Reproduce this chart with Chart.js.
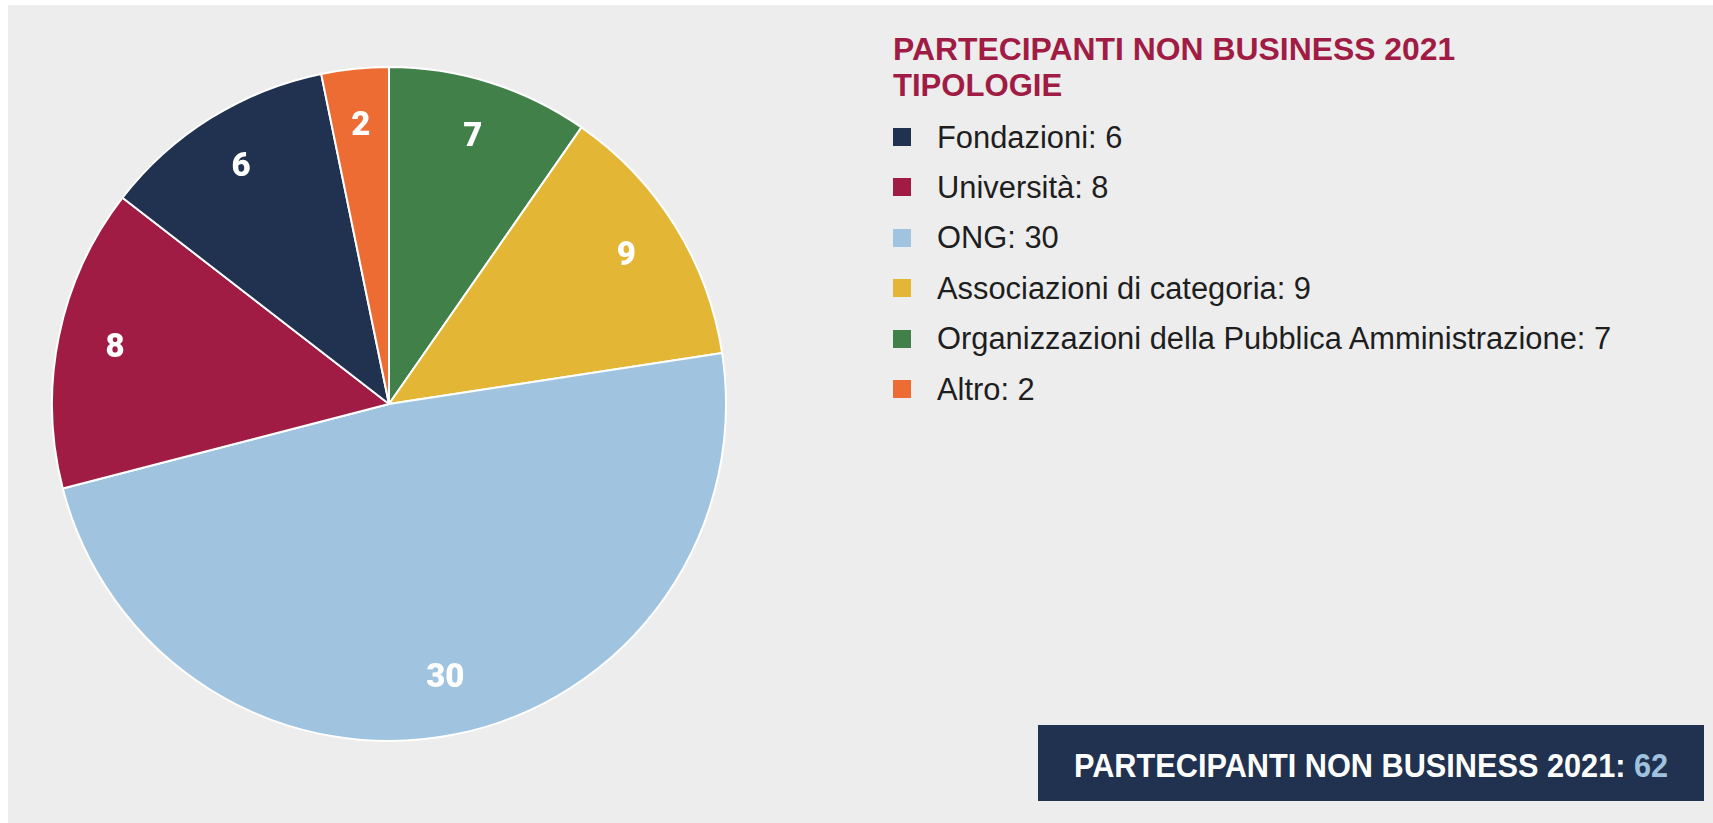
<!DOCTYPE html>
<html>
<head>
<meta charset="utf-8">
<script src="https://cdn.jsdelivr.net/npm/chart.js@4/dist/chart.umd.min.js"></script>
<style>
html,body{margin:0;padding:0;background:#ffffff;width:1713px;height:823px;overflow:hidden}
#bg{position:absolute;left:8px;top:5px;right:0;bottom:0;background:#ededed}
#pieBox{position:absolute;left:51px;top:66px;width:676px;height:676px}
.t{position:absolute;white-space:nowrap;transform-origin:0 0}
.title{left:893px;font-family:'Liberation Sans Narrow','Liberation Sans',sans-serif;font-weight:bold;font-size:32px;line-height:32px;color:#a01c44}
.leg{left:937px;font-family:'Liberation Sans Narrow','Liberation Sans',sans-serif;font-size:31px;line-height:31px;color:#1e1e1e}
.sw{position:absolute;left:893px;width:18px;height:18px}
#total{position:absolute;left:1038px;top:725px;width:666px;height:76px;background:#20324f;display:flex;align-items:center;justify-content:center}
#totalText{font-family:'Liberation Sans Narrow','Liberation Sans',sans-serif;font-weight:bold;font-size:34px;line-height:34px;color:#ffffff;white-space:nowrap;transform-origin:50% 50%;margin-top:4px}
#totalText span{color:#9fc2de}
</style>
</head>
<body>
<div id="bg"></div>
<div id="pieBox"><canvas id="c"></canvas></div>
<div id="title1" class="t title" style="top:33px">PARTECIPANTI NON BUSINESS 2021</div>
<div id="title2" class="t title" style="top:69px">TIPOLOGIE</div>
<div id="legend"></div>
<div id="total"><div id="totalText"></div></div>
<script>
// Categories in legend order
const categories = ['Fondazioni', 'Università', 'ONG', 'Associazioni di categoria', 'Organizzazioni della Pubblica Amministrazione', 'Altro'];
// Values per category (legend order)
const values = [6, 8, 30, 9, 7, 2];
// Colour per category (legend order)
const colors = ['#20324f', '#a01c44', '#a0c3df', '#e3b735', '#42804a', '#ec6c33'];
// As in the original picture: slice i has size values[i], but is painted with the
// colour (and labelled with the value) of category sliceCategory[i]
const sliceCategory = [4, 3, 2, 1, 0, 5];
const titleLines = ['PARTECIPANTI NON BUSINESS 2021', 'TIPOLOGIE'];
const totalLabel = 'PARTECIPANTI NON BUSINESS 2021: ';

const total = values.reduce((a, b) => a + b, 0);

document.getElementById('title1').textContent = titleLines[0];
document.getElementById('title2').textContent = titleLines[1];

// Legend
const legend = document.getElementById('legend');
const rowTop = 121.5, rowStep = 50.4;
categories.forEach((cat, i) => {
  const sw = document.createElement('div');
  sw.className = 'sw';
  sw.style.top = (rowTop + 6.5 + i * rowStep) + 'px';
  sw.style.background = colors[i];
  legend.appendChild(sw);
  const t = document.createElement('div');
  t.className = 't leg';
  t.style.top = (rowTop + i * rowStep) + 'px';
  t.textContent = cat + ': ' + values[i];
  legend.appendChild(t);
});
document.getElementById('totalText').innerHTML = totalLabel + '<span>' + total + '</span>';

// Fit condensed text widths to the reference
function fit(el, w) { el.style.transform = 'scaleX(' + (w / el.offsetWidth) + ')'; }
fit(document.getElementById('title1'), 562);
fit(document.getElementById('title2'), 169);
const legEls = document.querySelectorAll('.leg');
const s = 674 / legEls[4].offsetWidth;
legEls.forEach(e => e.style.transform = 'scaleX(' + s + ')');
fit(document.getElementById('totalText'), 594);

const sliceLabels = sliceCategory.map(i => values[i]);
const labelPlugin = {
  id: 'sliceLabels',
  afterDatasetsDraw(chart) {
    const ctx = chart.ctx;
    const meta = chart.getDatasetMeta(0);
    ctx.save();
    ctx.fillStyle = '#ffffff';
    ctx.font = '900 33px Roboto, Lato, "Liberation Sans", sans-serif';
    ctx.textAlign = 'center';
    ctx.textBaseline = 'middle';
    meta.data.forEach((arc, i) => {
      const p = arc.getProps(['x', 'y', 'startAngle', 'endAngle', 'outerRadius'], true);
      const mid = (p.startAngle + p.endAngle) / 2;
      const r = p.outerRadius * 0.83;
      ctx.fillText(String(sliceLabels[i]), p.x + Math.cos(mid) * r, p.y + Math.sin(mid) * r + 1);
    });
    ctx.restore();
  }
};

new Chart(document.getElementById('c'), {
  type: 'pie',
  data: {
    labels: sliceCategory.map(i => categories[i]),
    datasets: [{
      data: values,
      backgroundColor: sliceCategory.map(i => colors[i]),
      borderColor: '#ffffff',
      borderWidth: 2
    }]
  },
  options: {
    responsive: true,
    maintainAspectRatio: false,
    animation: false,
    layout: { padding: 0 },
    plugins: { legend: { display: false }, tooltip: { enabled: false }, title: { display: false } }
  },
  plugins: [labelPlugin]
});
</script>
</body>
</html>
